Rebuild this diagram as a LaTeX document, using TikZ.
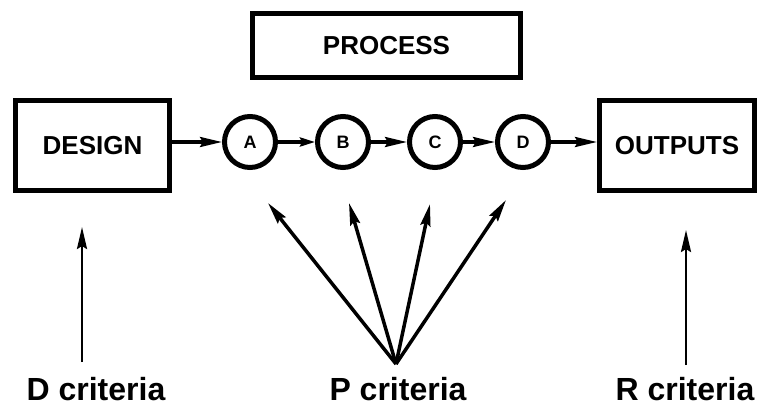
\documentclass[tikz,border=0pt]{standalone}
\usepackage{fontspec}
\setmainfont{Liberation Sans}
\usetikzlibrary{arrows.meta}
\begin{document}
\begin{tikzpicture}[x=1pt,y=-1pt,
  box/.style={draw,line width=5pt,inner sep=0pt,font=\fontsize{26}{30}\selectfont\bfseries},
  stage/.style={draw,circle,line width=5pt,minimum size=51pt,inner sep=0pt,font=\fontsize{18}{21}\selectfont\bfseries},
  flow/.style={line width=3.2pt,-{Stealth[length=22pt,width=10pt,inset=3pt]}},
  crit/.style={line width=3.5pt,-{Stealth[length=22pt,width=10pt,inset=3pt]}},
  label/.style={anchor=base,inner sep=0pt,font=\fontsize{32}{36}\selectfont\bfseries}]
\useasboundingbox (0,0) rectangle (762,407);

% boxes
\node[box,minimum width=268pt,minimum height=64pt] (process) at (386.5,45.5) {PROCESS};
\node[box,minimum width=154pt,minimum height=90pt] (design) at (92.5,145.5) {DESIGN};
\node[box,minimum width=155pt,minimum height=90pt] (outputs) at (677,145.5) {OUTPUTS};

% process stages
\node[stage] (A) at (250,142) {A};
\node[stage] (B) at (343,142) {B};
\node[stage] (C) at (435,142) {C};
\node[stage] (D) at (523,142) {D};

% main flow
\draw[flow] (design.east |- A.west) -- (A.west);
\draw[flow,-{Stealth[length=15pt,width=9pt,inset=2pt]}] (A) -- (B);
\draw[flow] (B) -- (C);
\draw[flow] (C) -- (D);
\draw[flow] (D) -- (outputs.west |- D.east);

% criteria labels
\node[label] (dcrit) at (96,400) {D criteria};
\node[label] (pcrit) at (398,400) {P criteria};
\node[label] (rcrit) at (685,400) {R criteria};

% criteria arrows
\coordinate (dfoot) at (82,362);
\coordinate (dtip) at (82,227);
\coordinate (rfoot) at (686,365);
\coordinate (rtip) at (686,230);
\coordinate (apex) at (396,364);
\coordinate (ta) at (268,203);
\coordinate (tb) at (349,203);
\coordinate (tc) at (430,204);
\coordinate (td) at (506,200);

\draw[crit,line width=2.6pt] (dfoot) -- (dtip);
\draw[crit,line width=2.6pt] (rfoot) -- (rtip);
\draw[crit] (apex) -- (ta);
\draw[crit] (apex) -- (tb);
\draw[crit] (apex) -- (tc);
\draw[crit] (apex) -- (td);
\end{tikzpicture}
\end{document}
